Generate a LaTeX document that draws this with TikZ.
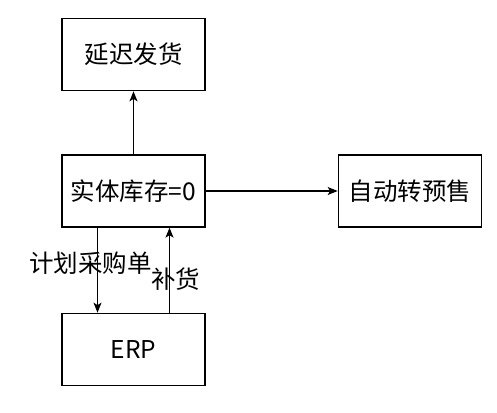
\documentclass[tikz,border=0pt]{standalone}
\usepackage{fontspec}
\setmainfont{Noto Sans CJK SC}
\usetikzlibrary{arrows.meta}
\usetikzlibrary{positioning}

\begin{document}
\begin{tikzpicture} [x=1pt,y=-1pt,line width=1.3pt,>={Stealth[length=10pt,width=8pt,inset=2.5pt]},
  box/.style={draw,rectangle,minimum width=143pt,minimum height=72pt,inner sep=0pt,font=\fontsize{24.5}{28}\selectfont},
  lbl/.style={font=\fontsize{24.5}{28}\selectfont,inner sep=1pt}]
\useasboundingbox (0,0) rectangle (497,412);
\node[box] (stock) at (133.5,191) {实体库存=0};
\node[box] (delay) [above=63pt of stock] {延迟发货};
\node[box] (presale) [right=132pt of stock] {自动转预售};
\node[box] (erp) [below=85pt of stock] {ERP};

\draw[->](stock)--(delay);
\draw[->](stock)--(presale);
\draw[->]([xshift=-36pt]stock.south)--([xshift=-36pt]erp.north)
  node[lbl,pos=0.42,xshift=-7pt] (plan) {计划采购单};
\draw[->]([xshift=36pt]erp.north)--([xshift=36pt]stock.south)
  node[lbl,pos=0.4,xshift=6pt] (fill) {补货};
\end{tikzpicture}
\end{document}
